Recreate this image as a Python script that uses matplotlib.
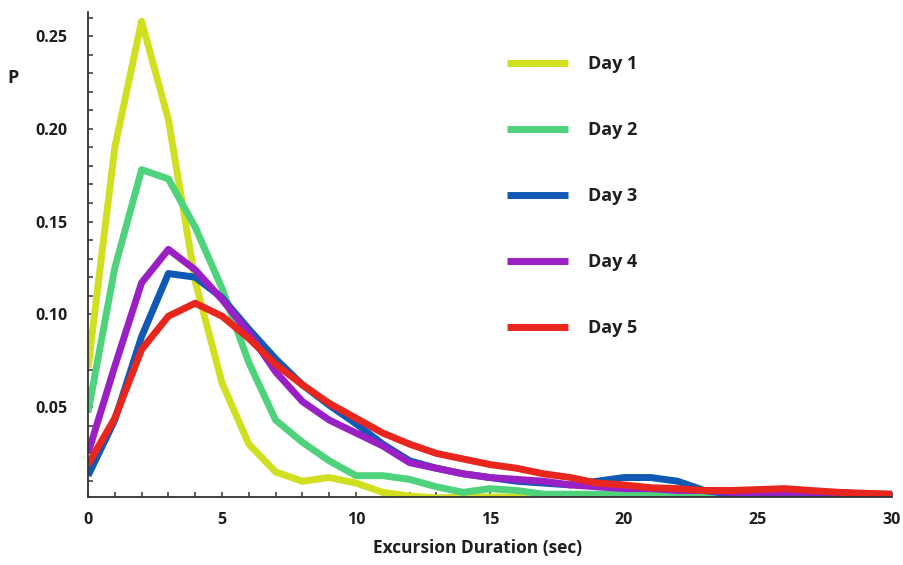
import matplotlib
matplotlib.use("Agg")
import matplotlib.pyplot as plt
from matplotlib.ticker import MultipleLocator, FixedLocator

# ---- data ----
seconds = list(range(0, 31))
day1 = [0.071, 0.190, 0.258, 0.205, 0.118, 0.063, 0.030, 0.015, 0.010, 0.012,
        0.009, 0.004, 0.002, 0.001, 0.0015, 0.0015, 0.0015, 0.0015, 0.0015, 0.0015,
        0.0015, 0.0015, 0.0015, 0.0015, 0.0015, 0.0015, 0.0015, 0.0015, 0.0015, 0.0015, 0.0015]
day2 = [0.047, 0.125, 0.178, 0.173, 0.147, 0.114, 0.074, 0.043, 0.031, 0.021,
        0.013, 0.013, 0.011, 0.007, 0.004, 0.006, 0.005, 0.003, 0.003, 0.003,
        0.003, 0.003, 0.003, 0.003, 0.002, 0.002, 0.002, 0.002, 0.002, 0.002, 0.002]
day3 = [0.013, 0.043, 0.088, 0.122, 0.120, 0.109, 0.092, 0.076, 0.062, 0.051,
        0.041, 0.030, 0.021, 0.017, 0.014, 0.012, 0.010, 0.009, 0.008, 0.010,
        0.012, 0.012, 0.010, 0.005, 0.003, 0.003, 0.002, 0.002, 0.002, 0.002, 0.002]
day4 = [0.025, 0.072, 0.117, 0.135, 0.124, 0.108, 0.090, 0.069, 0.053, 0.043,
        0.036, 0.029, 0.020, 0.017, 0.014, 0.012, 0.011, 0.010, 0.008, 0.007,
        0.006, 0.006, 0.005, 0.005, 0.004, 0.004, 0.004, 0.004, 0.004, 0.003, 0.003]
day5 = [0.019, 0.044, 0.081, 0.099, 0.106, 0.099, 0.087, 0.073, 0.062, 0.052,
        0.044, 0.036, 0.030, 0.025, 0.022, 0.019, 0.017, 0.014, 0.012, 0.009,
        0.008, 0.0065, 0.006, 0.005, 0.005, 0.0055, 0.006, 0.005, 0.004, 0.0035, 0.003]
series = [day1, day2, day3, day4, day5]
labels = ["Day 1", "Day 2", "Day 3", "Day 4", "Day 5"]
colors = ["#d0e021", "#4fd27c", "#1059b4", "#9a20c6", "#e8261e"]
xticks = [0, 5, 10, 15, 20, 25, 30]
yticks = [0.05, 0.10, 0.15, 0.20, 0.25]

FONT = "Open Sans"
TXT = "#1e1e1e"

fig = plt.figure(figsize=(9.04, 5.65), dpi=100)
ax = fig.add_axes([88 / 904, 1 - 497 / 565, (892 - 88) / 904, (497 - 12) / 565])

for ys, lab, c in zip(series, labels, colors):
    ax.plot(seconds, ys, color=c, lw=5.0, label=lab, solid_capstyle="butt",
            solid_joinstyle="round")

ax.set_xlim(0, 30)
ax.set_ylim(0.0015, 0.263)
ax.xaxis.set_major_locator(FixedLocator(xticks))
ax.xaxis.set_minor_locator(MultipleLocator(1))
ax.yaxis.set_major_locator(FixedLocator(yticks))
ax.yaxis.set_minor_locator(MultipleLocator(0.01))
ax.set_xticklabels([str(t) for t in xticks])
ax.set_yticklabels([f"{t:.2f}" for t in yticks])

for s in ["top", "right"]:
    ax.spines[s].set_visible(False)
for s in ["left", "bottom"]:
    ax.spines[s].set_color("#333333")
    ax.spines[s].set_linewidth(1.3)

ax.tick_params(axis="both", which="both", direction="in", length=3.5, width=1.1,
               color="#333333")
ax.tick_params(axis="x", which="major", pad=11)
ax.tick_params(axis="y", which="major", pad=15)
for lbl in ax.get_xticklabels() + ax.get_yticklabels():
    lbl.set_fontfamily(FONT)
    lbl.set_fontweight("bold")
    lbl.set_fontsize(11.5)
    lbl.set_color(TXT)

fig.text(478 / 904, 1 - 548 / 565, "Excursion Duration (sec)", ha="center",
         va="center", fontfamily=FONT, fontweight="bold", fontsize=12.5, color=TXT)
fig.text(13 / 904, 1 - 78 / 565, "P", ha="center", va="center",
         fontfamily=FONT, fontweight="bold", fontsize=13, color=TXT)

leg = ax.legend(loc="upper left", bbox_to_anchor=(507 / 904, 1 - 55 / 565),
                bbox_transform=fig.transFigure, frameon=False,
                prop={"family": FONT, "weight": "bold", "size": 13},
                handlelength=3.4, handletextpad=1.1, labelspacing=2.66,
                borderpad=0, borderaxespad=0)
for t in leg.get_texts():
    t.set_color(TXT)

fig.savefig("out.png", dpi=100)
